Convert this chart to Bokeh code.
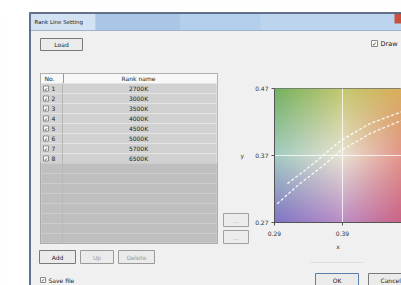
import numpy as np
from bokeh.plotting import figure
from bokeh.models import Range1d
from bokeh.embed import file_html
from bokeh.resources import INLINE
from bokeh.core.properties import value

# ---------------- data ----------------
rank_no = [1, 2, 3, 4, 5, 6, 7, 8]
rank_names = ["2700K", "3000K", "3500K", "4000K", "4500K", "5000K", "5700K", "6500K"]
x_ticks = [0.29, 0.39]
y_ticks = [0.27, 0.37, 0.47]
# rank band boundaries (dashed curves)
lower_x = [0.294, 0.325, 0.358, 0.387, 0.431, 0.476]
lower_y = [0.298, 0.326, 0.352, 0.377, 0.403, 0.422]
upper_x = [0.309, 0.335, 0.358, 0.387, 0.431, 0.476]
upper_y = [0.328, 0.348, 0.367, 0.392, 0.418, 0.435]
# colour of the chromaticity field, read at a 3x3 grid of points
field_cx = [0.29, 0.39, 0.49]
field_cy = [0.27, 0.37, 0.47]
field_rgb = [
    [[128, 116, 198], [188, 142, 198], [206, 92, 126]],   # y = 0.27
    [[162, 204, 194], [234, 228, 212], [226, 138, 128]],  # y = 0.37
    [[116, 178, 96], [196, 200, 112], [222, 170, 88]],    # y = 0.47
]

# ---------------- figure ----------------
W, H = 401, 285
FL, FT, FB = 274, 88, 63          # frame placement
frame_w = W - FL
x0, x1 = 0.29, 0.29 + frame_w * 0.2 / 136
y0, y1 = 0.27, 0.47

p = figure(width=W, height=H, x_range=Range1d(x0, x1), y_range=Range1d(y0, y1),
           output_backend="svg", toolbar_location=None,
           min_border_left=FL, min_border_right=0, min_border_top=FT, min_border_bottom=FB,
           border_fill_color="#f0f0f0", background_fill_color="#f0f0f0",
           outline_line_color="#6e6e6e")
p.title.text = ""
p.extra_x_ranges = {"px": Range1d(274, 401)}
p.extra_y_ranges = {"py": Range1d(222, 88)}

# chromaticity field
nx, ny = 128, 134
xs = np.linspace(x0, x1, nx)
ys = np.linspace(y0, y1, ny)
ctrl = np.array(field_rgb, dtype=float)
img = np.zeros((ny, nx, 4), dtype=np.uint8)
for c in range(3):
    rows = np.array([np.interp(xs, field_cx, ctrl[j, :, c]) for j in range(3)])
    chan = np.array([np.interp(ys, field_cy, rows[:, i]) for i in range(nx)]).T
    img[:, :, c] = np.clip(chan, 0, 255).astype(np.uint8)
img[:, :, 3] = 255
p.image_rgba(image=[img.view(np.uint32).reshape(ny, nx)], x=x0, y=y0, dw=x1 - x0, dh=y1 - y0,
             level="image")

p.line(lower_x, lower_y, line_color="white", line_width=1.3, line_dash="3 2", line_alpha=0.9)
p.line(upper_x, upper_y, line_color="white", line_width=1.3, line_dash="3 2", line_alpha=0.9)

# axes & grid
for ax, ticks, lab in ((p.xaxis, x_ticks, "x"), (p.yaxis, y_ticks, "y")):
    ax.ticker = ticks
    ax.axis_label = lab
    ax.major_label_text_font_size = "6px"
    ax.major_label_text_color = "#333333"
    ax.major_label_text_font = "DejaVu Sans"
    ax.axis_label_text_font = "DejaVu Sans"
    ax.axis_label_text_font_size = "6px"
    ax.axis_label_text_font_style = "normal"
    ax.axis_label_text_color = "#333333"
    ax.axis_line_color = "#555555"
    ax.major_tick_line_color = "#555555"
    ax.major_tick_out = 3
    ax.major_tick_in = 0
    ax.minor_tick_line_color = None
p.xaxis.major_label_standoff = 5
p.yaxis.major_label_standoff = 3
p.xaxis.axis_label_standoff = 4
p.yaxis.axis_label_standoff = 8
try:
    p.yaxis.axis_label_orientation = "horizontal"
except Exception:
    pass
p.xgrid.ticker = [0.39]
p.ygrid.ticker = [0.37]
p.grid.grid_line_color = "white"
p.grid.grid_line_alpha = 0.75
p.grid.grid_line_width = 1

# ---------------- dialog decorations (page pixel coords) ----------------
KW = dict(x_range_name="px", y_range_name="py", level="overlay")
FONT = value("DejaVu Sans")


def box(l, r, t, b, fill, line=None, lw=1):
    p.quad(left=[l], right=[r], top=[t], bottom=[b], fill_color=fill,
           line_color=line, line_width=lw, **KW)


def seg(xa, ya, xb, yb, color, lw=1):
    p.segment(x0=[xa], y0=[ya], x1=[xb], y1=[yb], line_color=color, line_width=lw, **KW)


def txt(x, y, s, color="#222222", align="left", size="6px"):
    p.text(x=x, y=y, text=s, text_color=color, text_align=align, text_baseline="middle",
           text_font=FONT, text_font_size=size, **KW)


# page outside dialog
box(0, 29, 0, 285, "white")
box(0, 401, 0, 12, "white")
# title bar
box(29, 401, 12, 30, "#bcd4ee")
box(29, 95, 13, 30, "#d3e2f2")
box(95, 180, 13, 30, "#a9c6e6")
box(180, 260, 13, 30, "#b4cfec")
box(394, 401, 13, 23, "#c9503f")
seg(29, 12.5, 401, 12.5, "#3c4c66", 1.5)
seg(29, 30, 401, 30, "#9fb4cc", 1)
seg(29.5, 12, 29.5, 285, "#5f7390", 2)
txt([34], [21], ["Rank Line Setting"], color="#1a1a1a", size="5.5px")

# Load button
box(40, 82, 38, 50, "#ebebeb", "#7a7a7a")
txt([61], [44], ["Load"], align="center")
# checkbox at top right
box(371, 377, 40, 46, "white", "#8a8a8a")
txt([374], [43], ["✓"], align="center", size="6px")
txt([380], [43], ["Draw"], size="6.5px")

# table
box(40, 217, 73, 243, "#c3c3c3", "#8c8c8c")
box(40, 217, 73, 83, "#f8f8f8", "#b0b0b0")
seg(63, 73, 63, 83, "#9a9a9a")
txt([44], [78], ["No."])
txt([138], [78], ["Rank name"], align="center")
row_top = [83 + 10 * i for i in range(len(rank_no))]
p.quad(left=40.5, right=216.5, top=row_top, bottom=[t + 10 for t in row_top],
       fill_color="#d1d1d1", line_color="#e4e4e4", line_width=1, **KW)
empty_top = [163 + 10 * i for i in range(8)]
p.quad(left=40.5, right=216.5, top=empty_top, bottom=[min(t + 10, 242.5) for t in empty_top],
       fill_color="#bfbfbf", line_color="#cdcdcd", line_width=1, **KW)
seg(62, 83, 62, 243, "#b8b8b8")
row_mid = [t + 5 for t in row_top]
p.quad(left=43, right=48, top=[m - 2.5 for m in row_mid], bottom=[m + 2.5 for m in row_mid],
       fill_color="white", line_color="#777777", line_width=0.8, **KW)
txt([45.5] * len(rank_no), row_mid, ["✓"] * len(rank_no), align="center", size="5px")
txt([51] * len(rank_no), row_mid, [str(n) for n in rank_no])
txt([138] * len(rank_no), row_mid, rank_names, align="center")

# small side buttons
box(223, 248, 213, 226, "#ececec", "#a0a0a0")
box(223, 248, 230, 243, "#ececec", "#a0a0a0")
txt([235.5], [219.5], ["..."], color="#a0a0a0", align="center")
txt([235.5], [236.5], ["..."], color="#a0a0a0", align="center")

# bottom buttons
box(39, 75, 250, 263, "#ebebeb", "#7a7a7a")
box(80, 113, 250, 263, "#ebebeb", "#9a9a9a")
box(118, 154, 250, 263, "#ebebeb", "#9a9a9a")
txt([57], [256.5], ["Add"], align="center")
txt([96.5], [256.5], ["Up"], color="#9a9a9a", align="center")
txt([136], [256.5], ["Delete"], color="#9a9a9a", align="center")

# save file checkbox
box(40, 45, 277, 282, "white", "#8a8a8a")
txt([42.5], [279.5], ["✓"], align="center", size="5px")
txt([48], [279.5], ["Save file"])

# OK / Cancel
seg(310, 262, 363, 262, "#dedede")
box(315, 358, 273, 286, "#ebebeb", "#5a7fa8")
txt([336.5], [279.5], ["OK"], align="center")
box(368, 405, 273, 286, "#ebebeb", "#7a7a7a")
txt([380], [279.5], ["Cancel"])

open("out.html", "w").write(file_html(p, INLINE))
